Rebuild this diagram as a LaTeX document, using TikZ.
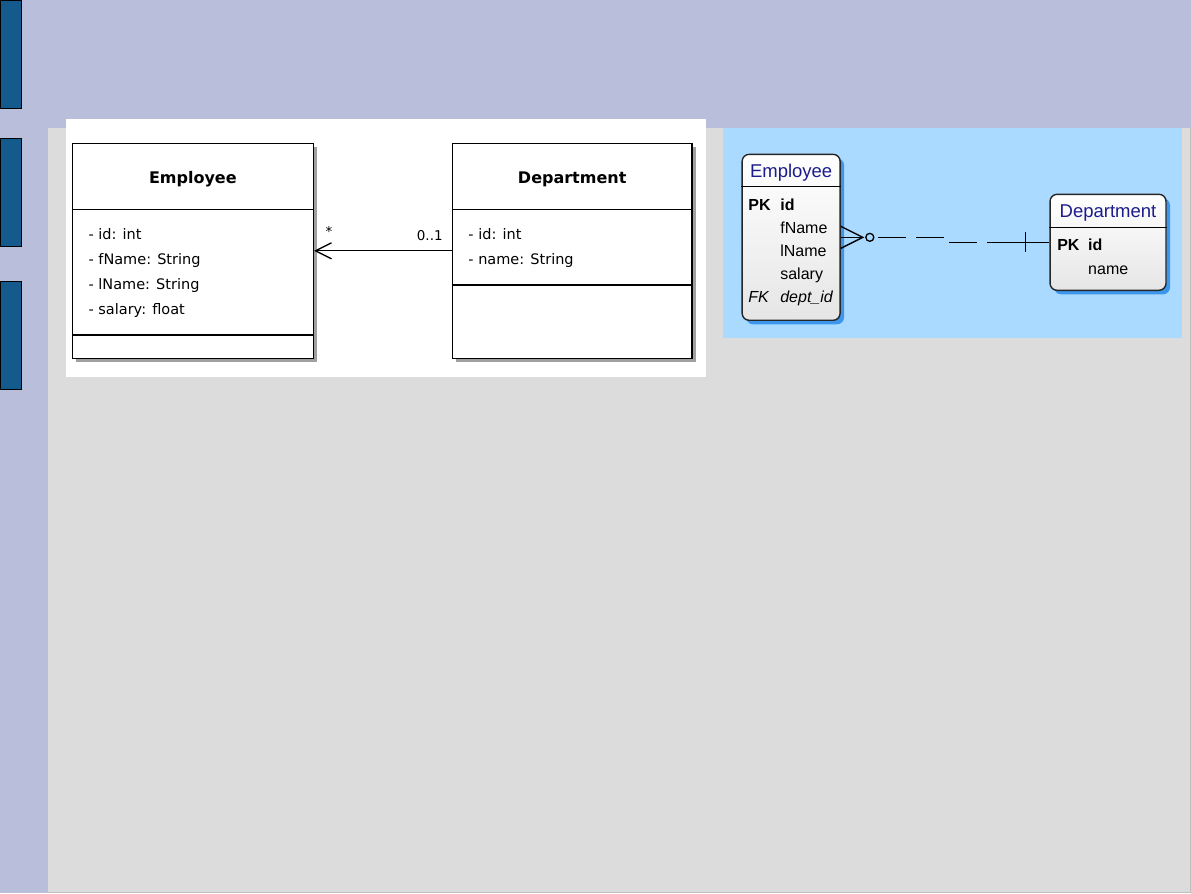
\documentclass[tikz,border=0pt]{standalone}
\usepackage{fontspec}
\setmainfont{Liberation Sans}
\newfontfamily\umlfont{DejaVu Sans}
\usepackage{tikz}
\usetikzlibrary{
    positioning,
    arrows.meta,
    shadows
}
\definecolor{SlideLavender}{RGB}{185,190,218}
\definecolor{BarBlue}{RGB}{20,90,140}
\definecolor{PanelGray}{RGB}{220,220,220}
\definecolor{PanelEdge}{RGB}{190,190,190}
\definecolor{ErSky}{RGB}{170,218,255}
\definecolor{ErShadow}{RGB}{60,150,235}
\definecolor{ErTitle}{RGB}{28,28,140}
\definecolor{UmlShadow}{RGB}{160,160,160}

\begin{document}
\begin{tikzpicture}[
    x=1pt, y=-1pt,
    umlbox/.style={rectangle, draw, line width=1.5pt, fill=white, inner sep=0pt, minimum height=215pt, drop shadow={shadow xshift=4pt, shadow yshift=-4pt, fill=UmlShadow, opacity=1}},
    umltitle/.style={font=\umlfont\bfseries\fontsize{16pt}{19pt}\selectfont, anchor=base, inner sep=0pt},
    umlattr/.style={font=\umlfont\fontsize{14.5pt}{17pt}\selectfont, anchor=base west, inner sep=0pt},
    mult/.style={font=\umlfont\fontsize{13.5pt}{15pt}\selectfont, inner sep=0pt},
    assoc/.style={line width=1.3pt, -{Straight Barb[length=16pt, width=16pt, line width=1.3pt]}},
    erbox/.style={rectangle, rounded corners=7pt, draw=black!85, line width=1.4pt, top color=white, bottom color=black!10, inner sep=0pt, drop shadow={shadow xshift=4pt, shadow yshift=-4pt, fill=ErShadow, opacity=1}},
    ertitle/.style={font=\fontsize{18.5pt}{22pt}\selectfont, text=ErTitle, anchor=base, inner sep=0pt},
    errow/.style={font=\fontsize{16pt}{19pt}\selectfont, anchor=base west, inner sep=0pt},
    rel/.style={line width=1.4pt, dash pattern=on 28pt off 10pt, dash phase=34pt},
    erlink/.style={line width=1.4pt},
]
% slide background
\fill[SlideLavender] (0,0) rectangle (1191,893);
\draw[fill=BarBlue, line width=0.8pt] (0,0) rectangle (21,108);
\draw[fill=BarBlue, line width=0.8pt] (0,138) rectangle (21,246);
\draw[fill=BarBlue, line width=0.8pt] (0,281) rectangle (21,389);
\fill[PanelGray] (48,128) rectangle (1190,892);
\draw[PanelEdge] (1190,128) -- (1190,892) -- (48,892);
\fill[white] (66,119) rectangle (706,377);
\fill[ErSky] (723,128) rectangle (1182,338);

% UML classes
\node[umlbox, minimum width=241pt] (empUml) at (192.5,250.5) {};
\node[umlbox, minimum width=240pt] (deptUml) at (572,250.5) {};
\draw[line width=1.3pt] ([yshift=-67pt]empUml.north west) -- ([yshift=-67pt]empUml.north east);
\draw[line width=1.3pt] ([yshift=24pt]empUml.south west) -- ([yshift=24pt]empUml.south east);
\draw[line width=1.3pt] ([yshift=-67pt]deptUml.north west) -- ([yshift=-67pt]deptUml.north east);
\draw[line width=1.3pt] ([yshift=74pt]deptUml.south west) -- ([yshift=74pt]deptUml.south east);

\node[umltitle] (empUmlName) at ([yshift=-41pt]empUml.north) {Employee};
\node[umltitle] (deptUmlName) at ([yshift=-41pt]deptUml.north) {Department};

\node[umlattr] (empId) at (88,239) {- id: int};
\node[umlattr] (empFName) at (88,264) {- fName: String};
\node[umlattr] (empLName) at (88,289) {- lName: String};
\node[umlattr] (empSalary) at (88,314) {- salary: float};
\node[umlattr] (deptId) at (468,239) {- id: int};
\node[umlattr] (deptName) at (468,264) {- name: String};

\draw[assoc] (deptUml.west) -- node[mult, pos=0.158, above=9pt] {0..1} node[mult, pos=0.892, above=14pt] {*} (empUml.east);

% ER entities
\node[erbox, minimum width=98pt, minimum height=166pt] (erEmp) at (791,237) {};
\node[erbox, minimum width=116pt, minimum height=96pt] (erDept) at (1108,242) {};
\draw[line width=1.4pt] ([yshift=-33pt]erEmp.north west) -- ([yshift=-33pt]erEmp.north east);
\draw[line width=1.4pt] ([yshift=-34pt]erDept.north west) -- ([yshift=-34pt]erDept.north east);

\node[ertitle] (erEmpName) at ([yshift=-24pt]erEmp.north) {Employee};
\node[ertitle] (erDeptName) at ([yshift=-24pt]erDept.north) {Department};

\node[errow] (erEmpPk) at (748,210) {\textbf{PK}};
\node[errow] (erEmpId) at (780,210) {\textbf{id}};
\node[errow] (erEmpFName) at (780,233) {fName};
\node[errow] (erEmpLName) at (780,256) {lName};
\node[errow] (erEmpSalary) at (780,279) {salary};
\node[errow] (erEmpFk) at (748,302) {\textit{FK}};
\node[errow] (erEmpDept) at (780,302) {\textit{dept\_id}};
\node[errow] (erDeptPk) at (1057,250) {\textbf{PK}};
\node[errow] (erDeptId) at (1088,250) {\textbf{id}};
\node[errow] (erDeptNm) at (1088,274) {name};

% crow's foot, many side
\coordinate (cf) at ([xshift=22pt]erEmp.east);
\draw[erlink] (erEmp.east) -- (cf);
\draw[erlink] ([yshift=11pt]erEmp.east) -- (cf) -- ([yshift=-11pt]erEmp.east);
\node[circle, draw, line width=1.3pt, inner sep=0pt, minimum size=8pt] (optCirc) at ([xshift=7pt]cf) {};
\coordinate (elbow) at (948,237);
\coordinate (oneEnd) at ([xshift=-36pt]erDept.west);
\draw[rel] (optCirc.east) -- (elbow) -- (elbow |- erDept.west) -- (oneEnd);
\draw[erlink] (oneEnd) -- (erDept.west);
\draw[erlink] ([xshift=-24pt, yshift=10pt]erDept.west) -- ([xshift=-24pt, yshift=-10pt]erDept.west);
\end{tikzpicture}
\end{document}
